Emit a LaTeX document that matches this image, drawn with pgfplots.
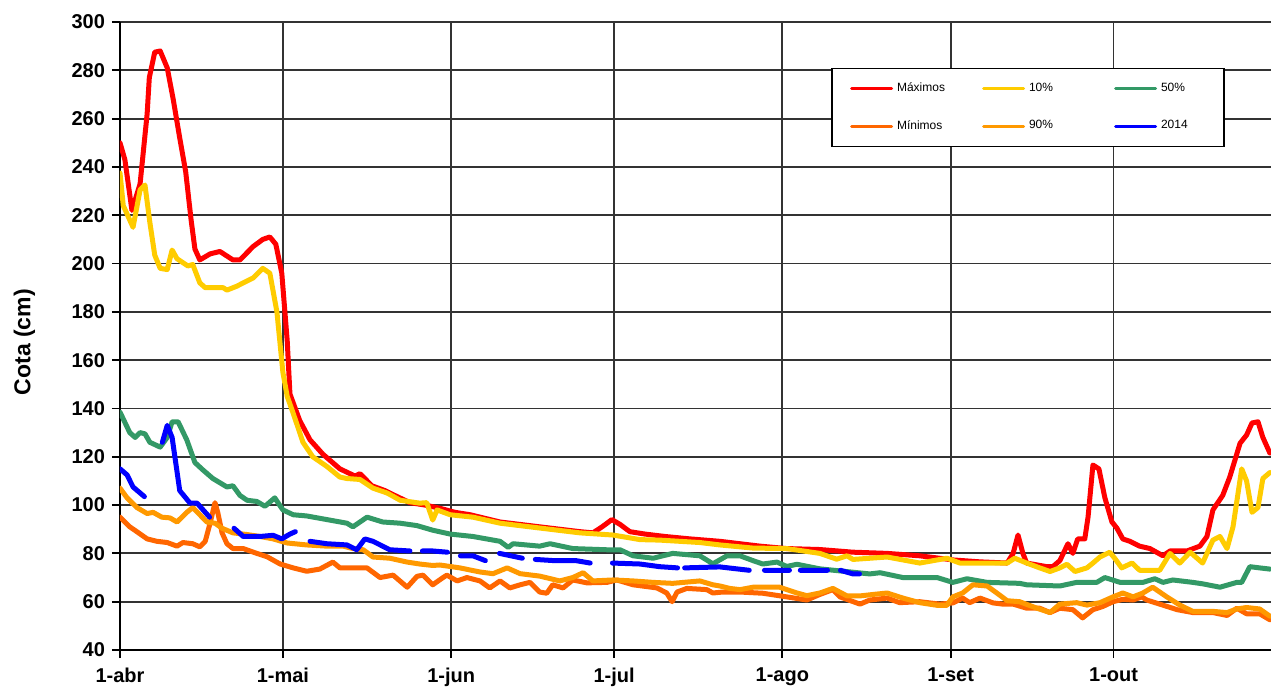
\documentclass[border=0pt]{standalone}
\usepackage{fontspec}
\setmainfont{Liberation Sans}
\usepackage{pgfplots}
\pgfplotsset{compat=1.18}
\usetikzlibrary{calc}

\definecolor{cMax}{HTML}{FF0000}
\definecolor{cDez}{HTML}{FFCC00}
\definecolor{cCinq}{HTML}{339966}
\definecolor{cMin}{HTML}{FF6600}
\definecolor{cNov}{HTML}{FF9900}
\definecolor{cAno}{HTML}{0000FF}

\begin{document}
\begin{tikzpicture}
\begin{axis}[
  name=ax,
  scale only axis,
  width=575.5pt, height=314pt,
  xmin=0, xmax=212, ymin=40, ymax=300,
  axis x line*=bottom, axis y line*=left,
  axis line style={black, line width=1.3pt},
  xtick={0,30,61,91,122,153,183},
  xticklabels={1-abr,1-mai,1-jun,1-jul,1-ago,1-set,1-out},
  ytick={40,60,...,300},
  tick align=outside,
  major tick length=4pt,
  tick style={black, line width=0.9pt},
  xmajorgrids, ymajorgrids,
  grid style={black!80, line width=0.9pt},
  ticklabel style={font=\bfseries\fontsize{10}{12}\selectfont},
  xticklabel style={yshift=-1.5pt},
  /pgf/number format/assume math mode=true,
  ylabel={Cota (cm)},
  ylabel style={font=\bfseries\fontsize{11.5}{13}\selectfont, at={(axis description cs:-0.083,0.49)}, anchor=center},
  unbounded coords=jump,
  every axis plot/.append style={line width=2.5pt, line join=round, line cap=round},
  legend columns=3,
  legend cell align=left,
  legend style={at={(0.618,0.927)}, anchor=north west, draw=black, line width=0.7pt,
    fill=white, font=\fontsize{6}{7}\selectfont, inner xsep=9pt, inner ysep=5pt,
    row sep=9pt, /tikz/every even column/.append style={column sep=20pt}},
  legend image code/.code={\draw[#1,solid,line width=1.5pt] (0pt,0pt) -- (20pt,0pt);},
]

% Maximos
\addplot[cMax] coordinates {
(0,250) (0.9,243) (2.2,222) (3.7,233) (5,262) (5.4,277) (6.4,287.5) (7.4,288) (8.7,281)
(9.8,268) (11,252) (12.1,238) (13.1,218) (13.8,206) (14.7,201.5) (16.6,204) (18.4,205)
(20.8,201.5) (22.1,201.5) (24.5,207) (26.3,210) (27.6,211) (28.7,208) (29.8,196) (30.8,168)
(31.3,146) (33.1,135) (35,127) (37.4,121) (40.5,115) (43.3,112) (44.2,113) (46.4,108)
(48.8,106) (50.6,104) (53.4,101) (56.2,100) (58.9,98.7) (61.7,97) (64.5,96) (70,93)
(77.3,91) (84.7,89) (87.1,88.5) (88.8,91) (90.6,94) (92.1,92) (93.9,89) (96.7,88)
(100.4,87) (105,86) (110.5,85) (117.9,83) (122.8,82) (128.9,81.6) (135,80.5) (141.3,80)
(147.3,79) (153.4,77.3) (158.4,76.5) (163.4,76) (164.5,80) (165.4,87.6) (166.3,80) (167,76)
(170.7,74.5) (171.8,74.5) (173.1,77) (174.6,84) (175.5,80) (176.4,86) (177.7,86) (178.3,95)
(179.2,116.6) (180.3,115) (181.4,103) (182.7,93) (183.6,90.5) (184.7,86) (186,85) (187.8,83)
(189.7,82) (192.1,79) (193.4,81) (196.5,81) (198.9,83) (200.2,87) (201.3,98) (203.1,104)
(204.4,111.6) (206.3,125.6) (207.5,129) (208.5,134) (209.6,134.5) (210.5,128) (211.8,121.5)
};
\addlegendentry{\makebox[20.5pt][l]{Máximos}}

% 10%
\addplot[cDez] coordinates {
(0,237.5) (0.6,224) (2.4,215) (3.7,230.5) (4.6,232.5) (5.5,217) (6.4,203.5) (7.4,198)
(8.7,197.5) (9.6,205.6) (10.5,202) (12.5,199) (13.4,199.6) (14.7,192) (15.7,190) (19,190)
(19.7,189) (21.5,190.6) (22.7,192) (24.5,194) (26.3,198) (27.6,196) (28.9,180) (30,155)
(30.8,145) (31.9,138) (33.7,126) (35.5,120) (38.1,116) (40.5,111.6) (41.8,111) (44.2,110.6)
(46.6,107) (49.2,105) (51.6,102) (55.2,100.8) (56.5,101) (57.6,93.8) (58.4,98) (60.8,96)
(65,95) (70,92.5) (77.3,90.5) (84.7,88.5) (90.8,87.6) (95.8,85.7) (99.4,85.5) (106.8,84.5)
(110.5,83.5) (116.6,82.2) (122.8,82) (128.9,80) (132,77.6) (133.9,79) (135,77.5) (141.3,78.5)
(147.3,76) (152.3,78) (154.7,76) (159.7,76) (163.4,76) (164.8,78) (167,76) (169.4,74)
(171.3,72.5) (173.1,74) (174.4,75.5) (175.9,72.5) (178.1,74) (179.2,76) (180.5,78.5)
(182.3,80.5) (183.2,78) (184.5,74) (186.4,76) (187.8,73) (191.5,73) (193.4,80) (195.2,76)
(197.1,80.5) (199.4,76) (201.3,85.5) (202.6,87) (203.9,82) (205,91) (206.6,115) (207.5,110)
(208.5,97) (209.6,99) (210.5,111) (211.8,113.5)
};
\addlegendentry{\makebox[20.5pt][l]{10\%}}

% 50%
\addplot[cCinq] coordinates {
(0,138.5) (1.8,130) (2.8,128) (3.7,130) (4.6,129.5) (5.5,126) (7.4,124) (8.7,128) (9.6,134.5)
(10.7,134.5) (12.3,127) (13.8,117.6) (15.3,114.5) (17.1,111) (19.7,107.5) (20.8,108) (22.1,104)
(23.4,102) (25.2,101.5) (26.7,99.5) (28.5,103) (30,98) (31.9,96) (34.4,95.5) (38.1,94)
(41.8,92.5) (42.9,91) (45.5,95) (48.4,93) (51.6,92.5) (54.7,91.5) (57.6,89.6) (60.8,88)
(65,87) (70,85) (71.5,82.5) (72.4,84) (77.3,83) (79.2,84) (83.4,82) (89.7,81.5) (92.1,81.5)
(94.5,79) (98.2,78) (101.8,80) (106.8,79) (109.2,75.7) (111.8,79) (114.2,79) (116.6,77)
(118.4,75.6) (121,76.4) (122.8,74.6) (124.7,75.5) (128.9,73.6) (135,72.2) (138.1,71.5) (140,72)
(144.2,70) (150.5,70) (153.4,68) (156,69.5) (159.7,68) (165.7,67.6) (167,67) (173.1,66.5)
(176.2,68) (179.9,68) (181.4,70) (184.2,68) (188.4,68) (190.6,69.5) (192.1,68) (193.9,69)
(197.6,68) (199.4,67.4) (202.6,66) (205.7,68) (206.6,68) (208.1,74.5) (209.9,74) (211.8,73.5)
};
\addlegendentry{\makebox[20.5pt][l]{50\%}}

% Minimos
\addplot[cMin] coordinates {
(0,95) (1.8,91) (3.1,89) (5,86) (6.8,85) (8.7,84.5) (10.5,83) (11.6,84.5) (13.4,84) (14.7,82.7)
(15.7,85) (16.6,92.6) (17.5,101) (18,97) (18.8,88.5) (19.7,84) (20.8,82) (22.7,82) (25.2,80)
(27.1,78.6) (29.5,75.6) (31.9,74) (34.4,72.6) (36.8,73.5) (39.2,76.4) (40.5,74) (45.5,74)
(47.9,70) (50.3,71) (52.9,66) (54.7,70.5) (55.8,71) (57.6,67) (59.5,70) (60.2,71) (62.1,68.6)
(63.9,70) (66.3,68.6) (68.1,65.7) (70,68.6) (71.8,65.7) (73.7,67) (75.5,68) (77.3,64)
(78.6,63.5) (79.7,67) (81.6,65.7) (83.4,69) (86,67.8) (89.7,68) (91.5,69) (94.5,67) (98.9,65.7)
(100.7,63.6) (101.7,60) (102.6,64) (104.4,65.5) (108.1,65) (109.2,63.6) (111,64) (114.2,64)
(118.4,63.5) (122.8,62) (126.5,60.7) (128.9,63) (131.3,65) (132.6,62) (136.3,59) (138.1,60.7)
(141.3,61.5) (143.6,59.6) (147.3,60) (151,59) (153.4,59.5) (155.2,61.5) (156.5,59.6)
(158.4,61.5) (160.8,59.5) (162.6,59) (164.5,59) (167,57.3) (169.4,57.3) (171.3,55.5)
(173.1,57.3) (175.5,56.7) (177.3,53.3) (179.2,56.7) (181,58) (182.9,60) (184.7,61) (186.6,60.7)
(188.2,62) (189.1,60.7) (191.5,59) (194.7,56.7) (197.6,55.5) (201.3,55.5) (203.9,54.3)
(205.7,57.3) (207.5,55) (209.9,55) (211.8,52.5)
};
\addlegendentry{\makebox[20.5pt][l]{Mínimos}}

% 90%
\addplot[cNov] coordinates {
(0,107) (1.3,103) (3.1,99) (5,96.5) (6.1,97) (7.7,95) (9.2,94.7) (10.5,93) (12.3,97) (13.4,99)
(14.7,96) (16,93) (17.5,92.5) (18.8,90.4) (20.8,88.5) (23.4,87.8) (25.8,87) (28.2,86)
(30.8,84.3) (34.4,83.5) (38.1,83) (41.1,83) (42.9,82) (44.8,81.5) (46.6,78.5) (49.7,78)
(52.9,76.4) (55.2,75.6) (57.6,75) (58.9,75.2) (62.6,74) (66.3,72.3) (68.7,71.6) (71.3,74)
(73.7,71.6) (77.3,70.6) (81,68.6) (83.4,70) (85.3,72) (87.1,68.6) (90.8,69) (94.5,68.6)
(98.2,68) (101.8,67.6) (106.8,68.6) (109.2,67) (110.5,66.5) (112.3,65.5) (114.2,65) (116.6,66)
(121.5,66) (124.7,63.6) (126.5,62.5) (128.9,63.6) (131.3,65.5) (133.9,62.4) (136.3,62.4)
(138.7,63) (141.3,63.6) (144.2,61.5) (147.3,59.6) (150.5,58.5) (152.3,58.5) (153.4,62)
(155.2,63.6) (157.1,67) (159.7,66.5) (161.5,63.6) (163.4,60.4) (165.7,60) (168.9,57.3)
(171.3,55.5) (173.1,59) (176.2,59.6) (178.1,58.6) (180.5,59.6) (182.9,62) (184.7,63.6)
(186.6,62) (188.4,63.6) (190.2,66) (192.8,62) (195.2,58.6) (197.6,56) (201.3,56) (203.9,55.5)
(205.7,57) (207.5,57.6) (209.9,57) (211.8,54)
};
\addlegendentry{\makebox[20.5pt][l]{90\%}}

% 2014 (dias sem leitura deixam lacunas)
\addplot[cAno] coordinates {
(0,115) (1.3,112.5) (2.4,107.5) (4.5,103.5) (6,nan)
(7.8,126) (8.7,133) (9.6,128) (11,106) (12.9,100.8) (14.2,100.8) (16.5,95) (18,nan)
(21,90.4) (22.7,87) (25.8,87) (28.2,87.5) (29.8,86) (31.3,88) (32.3,89) (33.5,nan)
(35,85) (38.1,84) (41.8,83.5) (43.6,81.5) (45.1,86) (46.6,85) (49.7,81.5) (53.4,81) (54.5,nan)
(55.7,81) (57.6,81) (60.3,80.5) (61.5,nan)
(62.7,79) (65,79) (67.3,77) (68.5,nan)
(69.9,80) (72,79) (74.1,78) (75.3,nan)
(76.5,77.5) (80,77) (84,77) (86.6,76) (88,nan)
(90.7,76) (95.8,75.6) (99.4,74.5) (102.7,74) (103.3,nan)
(104,74) (110.5,74.4) (115.9,73) (117,nan)
(118.7,73) (123.3,73) (124.3,nan)
(125.3,73) (130.3,73) (131.5,nan)
(132.7,73) (135,71.5) (136.2,71.5)
};
\addlegendentry{\makebox[20.5pt][l]{2014}}

\end{axis}
\pgfresetboundingbox
\path[use as bounding box] ($(ax.south west)+(-60pt,-18pt)$) rectangle ($(ax.north east)+(0pt,11pt)$);
\end{tikzpicture}
\end{document}
